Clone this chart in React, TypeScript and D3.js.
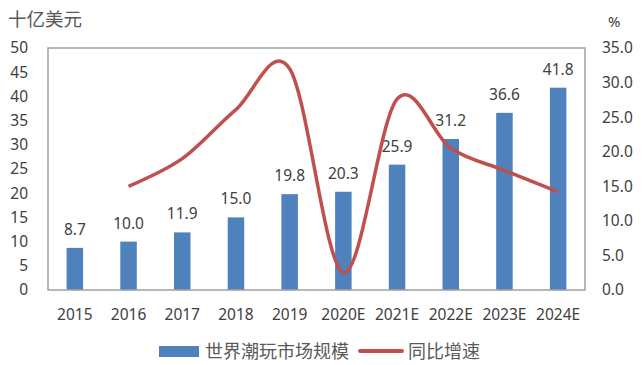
import React from "react";
import * as d3 from "d3";

// chart data
const years = ["2015", "2016", "2017", "2018", "2019", "2020E", "2021E", "2022E", "2023E", "2024E"];
const marketSize = [8.7, 10.0, 11.9, 15.0, 19.8, 20.3, 25.9, 31.2, 36.6, 41.8];
const growth: (number | null)[] = [null, 15.0, 19.0, 26.1, 32.0, 2.5, 27.6, 20.5, 17.3, 14.2];
const leftTicks = [0, 5, 10, 15, 20, 25, 30, 35, 40, 45, 50];
const rightTicks = [0, 5, 10, 15, 20, 25, 30, 35];

const W = 643;
const H = 365;
const margin = { top: 48, right: 58, bottom: 75, left: 48 };
const FONT = "'Noto Sans', 'Noto Sans CJK SC', sans-serif";
const TEXT = "#404040";

const App: React.FC = () => {
	const innerW = W - margin.left - margin.right;
	const innerH = H - margin.top - margin.bottom;

	const x = d3.scaleBand<string>().domain(years).range([0, innerW]);
	const yL = d3.scaleLinear().domain([0, 50]).range([innerH, 0]);
	const yR = d3.scaleLinear().domain([0, 35]).range([innerH, 0]);

	const barW = 16.5;
	const cx = (d: string) => (x(d) ?? 0) + x.bandwidth() / 2;

	const pts = years
		.map((d, i) => ({ d, v: growth[i] }))
		.filter((p) => p.v !== null) as { d: string; v: number }[];

	const line = d3
		.line<{ d: string; v: number }>()
		.x((p) => cx(p.d))
		.y((p) => yR(p.v))
		.curve(d3.curveCardinal.tension(0));

	return (
		<svg width={W} height={H} style={{ position: "absolute", left: 0, top: 0, background: "#fff" }}>
			<text x={8} y={26} fontSize={18.5} fill="#595959" fontFamily={FONT}>
				十亿美元
			</text>
			<text x={608} y={27} fontSize={15} fill={TEXT} fontFamily={FONT}>
				%
			</text>

			<g transform={`translate(${margin.left},${margin.top})`}>
				{/* bars */}
				{years.map((d, i) => (
					<rect
						key={d}
						x={cx(d) - barW / 2}
						y={yL(marketSize[i])}
						width={barW}
						height={innerH - yL(marketSize[i])}
						fill="#4f81bd"
					/>
				))}

				{/* bar labels */}
				{years.map((d, i) => (
					<text
						key={d}
						x={cx(d)}
						y={yL(marketSize[i]) - 13}
						textAnchor="middle"
						fontSize={15.5}
						fill={TEXT}
						fontFamily={FONT}
					>
						{marketSize[i].toFixed(1)}
					</text>
				))}

				{/* growth line */}
				<path d={line(pts) ?? ""} fill="none" stroke="#c0504d" strokeWidth={3.5} />

				{/* frame */}
				<rect x={0} y={0} width={innerW} height={innerH} fill="none" stroke="#a0a0a0" strokeWidth={1.5} />

				{/* left axis labels */}
				{leftTicks.map((t) => (
					<text
						key={t}
						x={-20}
						y={yL(t)}
						dy="0.35em"
						textAnchor="end"
						fontSize={15.5}
						fill={TEXT}
						fontFamily={FONT}
					>
						{t}
					</text>
				))}

				{/* right axis labels */}
				{rightTicks.map((t) => (
					<text
						key={t}
						x={innerW + 17}
						y={yR(t)}
						dy="0.35em"
						fontSize={15.5}
						fill={TEXT}
						fontFamily={FONT}
					>
						{t.toFixed(1)}
					</text>
				))}

				{/* x labels */}
				{years.map((d) => (
					<text
						key={d}
						x={cx(d)}
						y={innerH + 30}
						textAnchor="middle"
						fontSize={15.5}
						fill={TEXT}
						fontFamily={FONT}
					>
						{d}
					</text>
				))}
			</g>

			{/* legend */}
			<rect x={159} y={346} width={40} height={11} fill="#4f81bd" />
			<text x={205} y={358} fontSize={18} fill="#595959" fontFamily={FONT}>
				世界潮玩市场规模
			</text>
			<line x1={360} x2={402} y1={351} y2={351} stroke="#c0504d" strokeWidth={4} strokeLinecap="round" />
			<text x={408} y={358} fontSize={18} fill="#595959" fontFamily={FONT}>
				同比增速
			</text>
		</svg>
	);
};

export default App;
